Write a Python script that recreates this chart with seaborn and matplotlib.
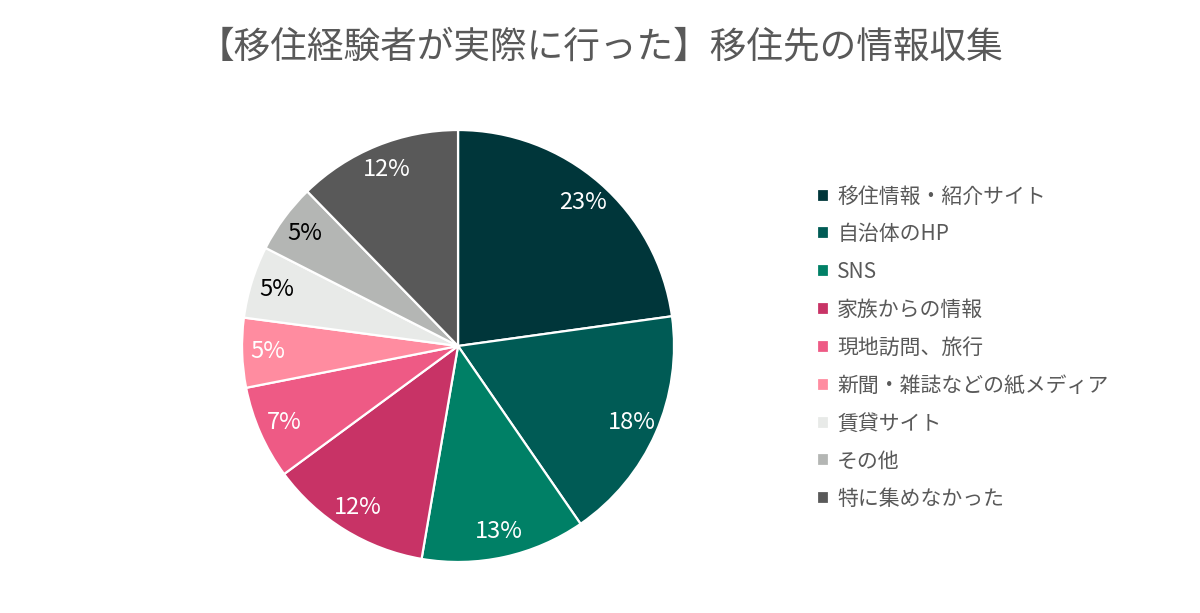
import matplotlib
matplotlib.use("Agg")
import matplotlib.pyplot as plt
import seaborn as sns

categories = [
    "移住情報・紹介サイト",
    "自治体のHP",
    "SNS",
    "家族からの情報",
    "現地訪問、旅行",
    "新聞・雑誌などの紙メディア",
    "賃貸サイト",
    "その他",
    "特に集めなかった",
]
shares = [22.8, 17.6, 12.3, 12.2, 7.0, 5.2, 5.4, 5.2, 12.3]
pct_labels = ["23%", "18%", "13%", "12%", "7%", "5%", "5%", "5%", "12%"]
slice_colors = [
    "#00363A", "#005B55", "#008066", "#C83366", "#EE5A85",
    "#FF8CA0", "#E8EAE8", "#B4B6B4", "#595959",
]
label_colors = ["white"] * 6 + ["black", "black", "white"]
title = "【移住経験者が実際に行った】移住先の情報収集"

sns.set_theme(style="white")
plt.rcParams["font.family"] = ["Noto Sans CJK JP", "DejaVu Sans"]

palette = sns.color_palette(slice_colors)
fig = plt.figure(figsize=(12, 6.13), dpi=100)
ax = fig.add_axes([0.2017, 0.0832, 0.36, 0.7047])

label_iter = iter(pct_labels)
wedges, texts, autotexts = ax.pie(
    shares,
    colors=palette,
    startangle=90,
    counterclock=False,
    autopct=lambda p: next(label_iter),
    pctdistance=0.88,
    wedgeprops={"edgecolor": "white", "linewidth": 1.6},
    textprops={"fontsize": 17},
)
for t, c in zip(autotexts, label_colors):
    t.set_color(c)
ax.set_xlim(-1, 1)
ax.set_ylim(-1, 1)

fig.text(0.5, 0.922, title, ha="center", va="center", fontsize=26.4, color="#595959")

leg = fig.legend(
    wedges, categories,
    loc="upper left", bbox_to_anchor=(0.665, 0.728),
    frameon=False, fontsize=15,
    handlelength=0.58, handleheight=0.58, handletextpad=0.4,
    labelspacing=0.76,
)
for t in leg.get_texts():
    t.set_color("#595959")

fig.savefig("out.png", dpi=100)
